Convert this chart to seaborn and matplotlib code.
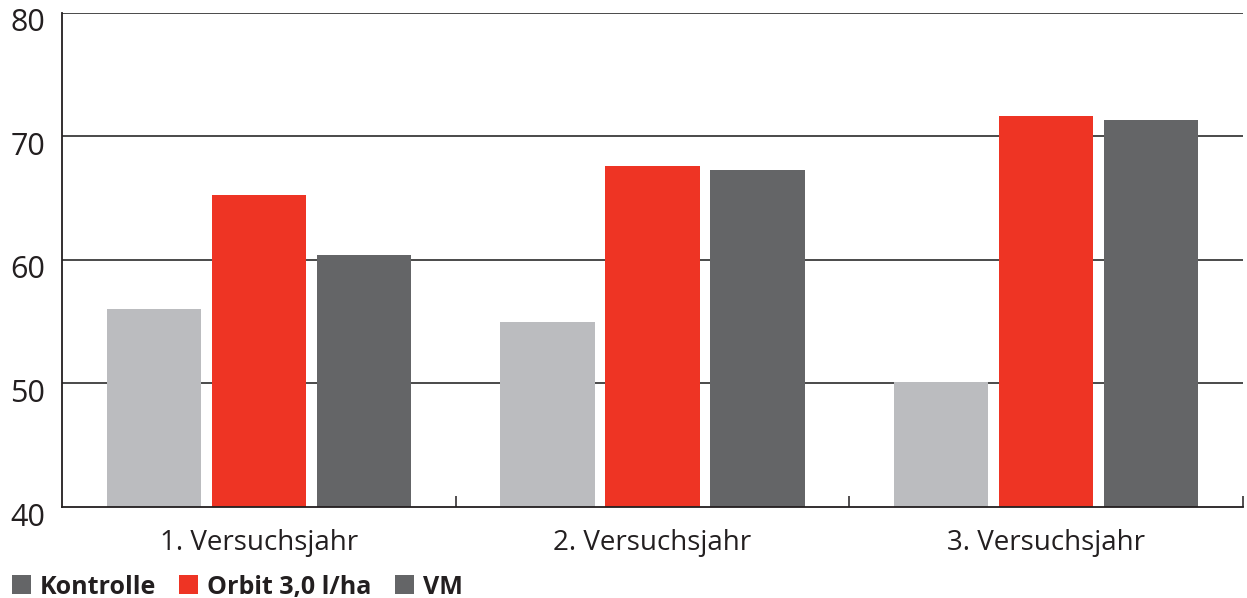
import matplotlib
matplotlib.use("Agg")
import matplotlib.pyplot as plt
import matplotlib.transforms as mtransforms
from matplotlib.patches import Rectangle
import seaborn as sns
import pandas as pd

# Werte je Versuchsjahr und Variante
jahre = ["1. Versuchsjahr", "2. Versuchsjahr", "3. Versuchsjahr"]
varianten = ["Kontrolle", "Orbit 3,0 l/ha", "VM"]
kontrolle = [56.0, 55.0, 50.1]
orbit = [65.3, 67.6, 71.7]
vm = [60.4, 67.3, 71.3]
y_ticks = [40, 50, 60, 70, 80]

farben = {"Kontrolle": "#bbbcbf", "Orbit 3,0 l/ha": "#ee3424", "VM": "#646567"}
legenden_farben = ["#646567", "#ee3424", "#646567"]

df = pd.DataFrame({
    "Jahr": jahre * 3,
    "Variante": [varianten[0]] * 3 + [varianten[1]] * 3 + [varianten[2]] * 3,
    "Wert": kontrolle + orbit + vm,
})

sns.set_theme(style="white")
plt.rcParams["font.family"] = ["Open Sans", "DejaVu Sans"]

W, H = 1247, 598
fig = plt.figure(figsize=(W / 100, H / 100), dpi=100)
ax = fig.add_axes([62 / W, 1 - 507 / H, (1243 - 62) / W, (507 - 13) / H])

# Gitterlinien hinter den Balken
for v in y_ticks[1:]:
    ax.axhline(v, color="#3c3c3c", lw=1.3, zorder=0)

sns.barplot(data=df, x="Jahr", y="Wert", hue="Variante", palette=farben,
            width=0.8, gap=0.1, ax=ax, legend=False, zorder=2,
            saturation=1, errorbar=None, linewidth=0)

ax.set_ylim(40, 80)
ax.set_xlim(-0.5, 2.5)
ax.set_yticks(y_ticks)
ax.set_yticklabels([str(t) for t in y_ticks], fontsize=22, color="#231f20")
ax.set_xticks(range(3))
ax.set_xticklabels(jahre, fontsize=20, color="#231f20")
ax.tick_params(axis="x", which="major", length=0, pad=16)
ax.tick_params(axis="y", length=0, pad=12)
ax.set_xticks([0.5, 1.5, 2.5], minor=True)
ax.tick_params(axis="x", which="minor", bottom=True, direction="in", length=8,
               width=1.1, color="#231f20")
ax.set_xlabel("")
ax.set_ylabel("")

for side in ["top", "right"]:
    ax.spines[side].set_visible(False)
for side in ["left", "bottom"]:
    ax.spines[side].set_color("#231f20")
    ax.spines[side].set_linewidth(1.3)

# y-Beschriftungen leicht nach unten versetzt
offset = mtransforms.ScaledTranslation(0, -7 / 100, fig.dpi_scale_trans)
for lab in ax.get_yticklabels():
    lab.set_transform(lab.get_transform() + offset)

# Legende als Zeile unter dem Diagramm: farbiges Quadrat + fetter Text
x_px = 12
base_px = 594
sq = 19
for name, col in zip(varianten, legenden_farben):
    fig.patches.append(Rectangle((x_px / W, 1 - base_px / H), sq / W, sq / H,
                                 transform=fig.transFigure, color=col, lw=0))
    x_px += sq + 9
    t = fig.text(x_px / W, 1 - base_px / H, name, color="#231f20", fontsize=18,
                 fontweight="bold", va="baseline", ha="left")
    fig.canvas.draw()
    bb = t.get_window_extent()
    x_px = bb.x1 + 23

fig.savefig("out.png", dpi=100)
